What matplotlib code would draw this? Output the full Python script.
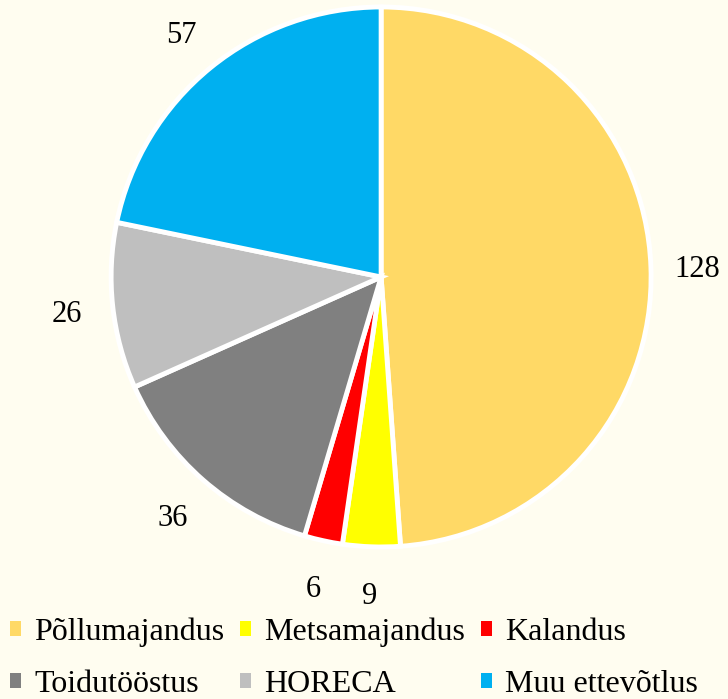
import matplotlib.pyplot as plt
from matplotlib.patches import Patch

categories = ['Põllumajandus', 'Metsamajandus', 'Kalandus',
              'Toidutööstus', 'HORECA', 'Muu ettevõtlus']
values = [128, 9, 6, 36, 26, 57]
colors = ['#FFD966', '#FFFF00', '#FF0000', '#808080', '#BFBFBF', '#00B0F0']
bg = '#FFFDF0'

plt.rcParams['font.family'] = ['Liberation Serif', 'DejaVu Serif']

fig = plt.figure(figsize=(7.28, 6.99), dpi=100, facecolor=bg)
ax = fig.add_axes([0.1525, 0.2175, 0.742, 0.7725])
ax.set_facecolor(bg)

total = sum(values)
wedges, texts, autotexts = ax.pie(
    values, colors=colors, startangle=90, counterclock=False,
    autopct=lambda p: f'{round(p * total / 100)}', pctdistance=1.17,
    wedgeprops=dict(edgecolor='white', linewidth=3.5),
    textprops=dict(fontsize=22, color='black'))
for t in autotexts:
    t.set_va('center_baseline')
ax.set_xlim(-1, 1)
ax.set_ylim(-1, 1)
ax.set_aspect('equal')

# legend fills column by column, so reorder to get rows of three
order = [0, 3, 1, 4, 2, 5]
handles = [Patch(facecolor=colors[i], edgecolor='none') for i in order]
labels = [categories[i] for i in order]
fig.legend(handles, labels, loc='lower left', bbox_to_anchor=(0.014, 0.0),
           borderaxespad=0.0, borderpad=0.0,
           ncol=3, frameon=False, fontsize=23, handlelength=0.35, handleheight=0.35,
           handletextpad=0.4, columnspacing=0.5, labelspacing=0.72)

fig.savefig('out.png', dpi=100, facecolor=bg)
